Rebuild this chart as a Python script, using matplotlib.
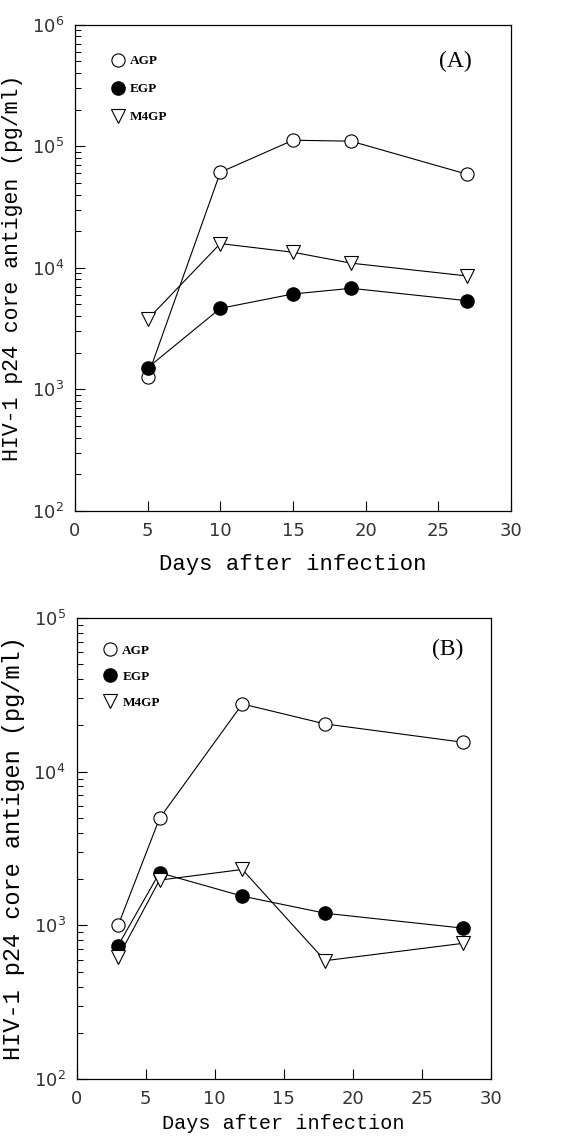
import matplotlib
matplotlib.use("Agg")
import matplotlib.pyplot as plt
from matplotlib.lines import Line2D

# panel A
days_a = [5, 10, 15, 19, 27]
agp_a = [1270, 61000, 112000, 110000, 58700]
egp_a = [1500, 4630, 6080, 6770, 5350]
m4gp_a = [3760, 15800, 13400, 10900, 8550]

# panel B
days_b = [3, 6, 12, 18, 28]
agp_b = [1000, 4960, 27500, 20400, 15500]
egp_b = [740, 2200, 1550, 1200, 960]
m4gp_b = [620, 1970, 2310, 590, 765]

ylabel = "HIV-1 p24 core antigen (pg/ml)"
xlabel = "Days after infection"
names = ["AGP", "EGP", "M4GP"]

fig = plt.figure(figsize=(5.79, 11.38), dpi=100)
ax1 = fig.add_axes([0.1295, 0.5512, 0.753, 0.4271])
ax2 = fig.add_axes([0.1325, 0.0516, 0.715, 0.4056])


def draw(ax, days, agp, egp, m4gp, ylim, tag, tagpos, lab_x, xpad, ysize, legpos, lspace):
    ax.plot(days, agp, color="black", lw=0.8, marker="o", ms=9.5,
            mfc="white", mec="black", mew=0.8)
    ax.plot(days, egp, color="black", lw=0.8, marker="o", ms=9.5,
            mfc="black", mec="black")
    ax.plot(days, m4gp, color="black", lw=0.8, marker="v", ms=10,
            mfc="white", mec="black", mew=0.8)
    ax.set_yscale("log")
    ax.set_xlim(0, 30)
    ax.set_ylim(*ylim)
    ax.set_xticks(range(0, 31, 5))
    ax.tick_params(which="both", direction="in", top=False, right=False)
    ax.tick_params(which="major", length=7, width=0.8, labelsize=13,
                   labelcolor="#333333", pad=8)
    ax.tick_params(which="minor", length=4, width=0.7)
    for s in ax.spines.values():
        s.set_linewidth(0.9)
    ax.set_xlabel(xlabel, family="Liberation Mono", fontsize=lab_x, labelpad=xpad)
    ax.set_ylabel(ylabel, family="Liberation Mono", fontsize=ysize, labelpad=6)
    handles = [
        Line2D([], [], ls="none", marker="o", ms=9.5, mfc="white", mec="black", mew=0.8),
        Line2D([], [], ls="none", marker="o", ms=9.5, mfc="black", mec="black"),
        Line2D([], [], ls="none", marker="v", ms=10, mfc="white", mec="black", mew=0.8),
    ]
    ax.legend(handles, names, loc="upper left", bbox_to_anchor=legpos,
              frameon=False, handlelength=0.8, handletextpad=0.5,
              labelspacing=lspace, prop={"family": "Liberation Serif",
                                         "weight": "bold", "size": 9.5})
    ax.text(tagpos[0], tagpos[1], tag, transform=ax.transAxes, ha="right",
            va="center", family="Liberation Serif", fontsize=17)


draw(ax1, days_a, agp_a, egp_a, m4gp_a, (1e2, 1e6), "(A)", (0.91, 0.924),
     16, 10, 15.5, (0.06, 0.962), 1.2)
draw(ax2, days_b, agp_b, egp_b, m4gp_b, (1e2, 1e5), "(B)", (0.933, 0.932),
     14.5, 4, 17, (0.04, 0.968), 1.05)

fig.savefig("out.png", dpi=100)
